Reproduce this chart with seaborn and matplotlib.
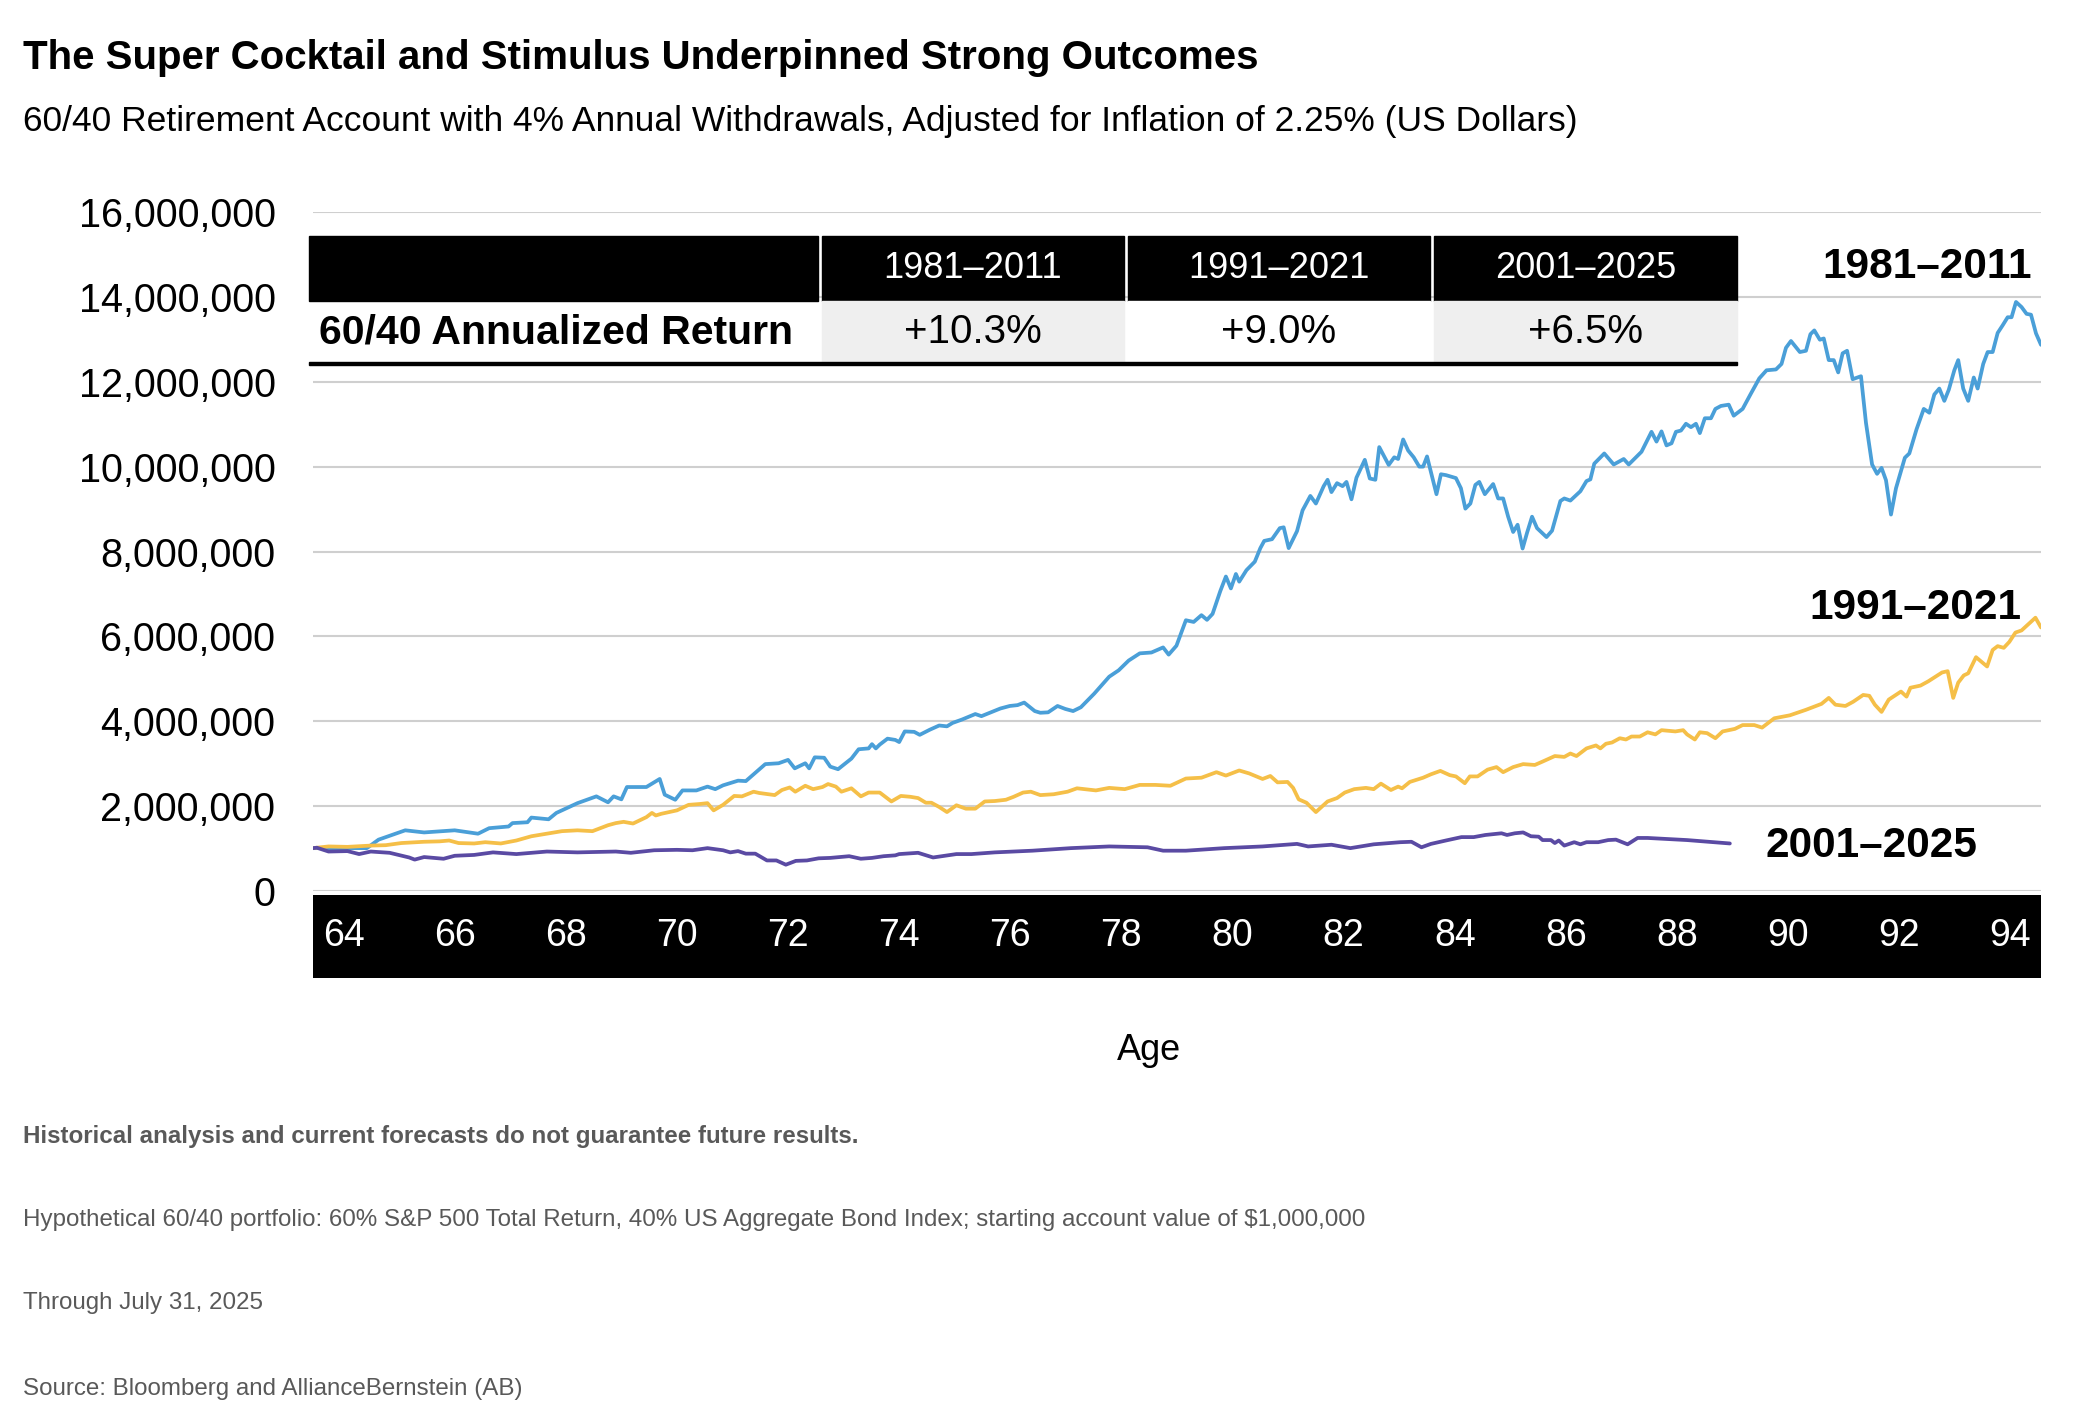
import matplotlib
matplotlib.use("Agg")
import matplotlib.pyplot as plt
from matplotlib.patches import Rectangle
import pandas as pd
import seaborn as sns

# ---- data (account value in millions of US dollars, by age) ----
periods = ["1981–2011", "1991–2021", "2001–2025"]
annualized = ["+10.3%", "+9.0%", "+6.5%"]

ages_8111 = [63.45, 64.42, 64.63, 65.11, 65.45, 66.00, 66.42, 66.62, 66.97, 67.04,
             67.31, 67.38, 67.69, 67.83, 68.21, 68.55, 68.76, 68.86, 69.00, 69.10,
             69.45, 69.69, 69.78, 69.97, 70.10, 70.35, 70.55, 70.69, 70.83, 71.10,
             71.24, 71.59, 71.83, 72.00, 72.12, 72.31, 72.38, 72.48, 72.65, 72.76,
             72.90, 73.14, 73.27, 73.45, 73.51, 73.58,
             73.65, 73.79, 73.93, 74.00, 74.10, 74.27, 74.37, 74.55, 74.72, 74.86,
             74.96, 75.13, 75.37, 75.48, 75.65, 75.82, 75.99, 76.13, 76.25, 76.44,
             76.54, 76.68, 76.85, 76.99, 77.13, 77.27, 77.51, 77.78, 77.95, 78.13,
             78.33, 78.54, 78.75, 78.85, 78.99, 79.16, 79.30, 79.44, 79.54, 79.64,
             79.78, 79.88, 79.97, 80.06, 80.12, 80.25, 80.40, 80.50, 80.57, 80.71,
             80.85, 80.92, 81.01, 81.16, 81.26, 81.40, 81.50, 81.64, 81.71, 81.78,
             81.88, 81.98, 82.05, 82.14, 82.23, 82.38, 82.47, 82.57, 82.64, 82.81,
             82.91, 82.98, 83.07, 83.16, 83.26, 83.36, 83.43, 83.50, 83.67, 83.75,
             83.84,
             84.02, 84.11, 84.19, 84.28, 84.37, 84.44, 84.54, 84.69, 84.78, 84.87,
             84.96, 85.05, 85.13, 85.22, 85.30, 85.39, 85.48, 85.65, 85.75, 85.90,
             85.97, 86.08, 86.26, 86.37, 86.44, 86.51, 86.69, 86.86, 87.04, 87.13,
             87.36, 87.54, 87.63, 87.72, 87.81, 87.90, 87.98, 88.07, 88.16, 88.25,
             88.34, 88.41, 88.50, 88.61, 88.69, 88.79, 88.93, 89.02, 89.18, 89.32,
             89.48, 89.61, 89.78, 89.88, 89.96, 90.05, 90.21, 90.32, 90.40, 90.47,
             90.57, 90.64, 90.73, 90.82, 90.90, 90.98, 91.06, 91.16, 91.31, 91.40,
             91.51, 91.60, 91.68, 91.76, 91.85, 91.94, 92.10, 92.18, 92.31, 92.44,
             92.54, 92.63, 92.72, 92.81, 92.89, 92.99, 93.06, 93.15, 93.24, 93.34,
             93.41, 93.51, 93.59, 93.68, 93.77, 93.86, 93.95, 94.02, 94.10, 94.20,
             94.29, 94.37, 94.46, 94.55]
vals_8111 = [1.01, 1.01, 1.21, 1.43, 1.38, 1.43, 1.35, 1.48, 1.52, 1.60,
             1.62, 1.73, 1.69, 1.84, 2.07, 2.23, 2.09, 2.23, 2.16, 2.45,
             2.45, 2.64, 2.27, 2.15, 2.37, 2.37, 2.46, 2.40, 2.49, 2.60,
             2.59, 2.99, 3.01, 3.09, 2.89, 3.01, 2.89, 3.15, 3.14, 2.93,
             2.87, 3.12, 3.34, 3.36, 3.46, 3.36,
             3.45, 3.59, 3.56, 3.51, 3.76, 3.75, 3.68, 3.80, 3.90, 3.88,
             3.96, 4.04, 4.17, 4.12, 4.21, 4.30, 4.36, 4.38, 4.44, 4.24,
             4.20, 4.21, 4.36, 4.29, 4.24, 4.33, 4.65, 5.05, 5.20, 5.43,
             5.60, 5.62, 5.74, 5.57, 5.78, 6.38, 6.34, 6.50, 6.39, 6.53,
             7.07, 7.41, 7.13, 7.47, 7.29, 7.56, 7.76, 8.08, 8.25, 8.29,
             8.55, 8.57, 8.08, 8.48, 8.97, 9.31, 9.13, 9.54, 9.69, 9.40,
             9.61, 9.54, 9.64, 9.23, 9.74, 10.16, 9.72, 9.69, 10.46, 10.04,
             10.22, 10.18, 10.64, 10.38, 10.22, 10.00, 10.00, 10.24, 9.35, 9.82,
             9.80,
             9.73, 9.49, 9.01, 9.13, 9.57, 9.64, 9.35, 9.59, 9.25, 9.25,
             8.82, 8.46, 8.63, 8.07, 8.44, 8.82, 8.55, 8.34, 8.49, 9.19,
             9.25, 9.20, 9.42, 9.66, 9.70, 10.07, 10.31, 10.05, 10.18, 10.05,
             10.35, 10.82, 10.59, 10.83, 10.50, 10.55, 10.82, 10.85, 11.01, 10.93,
             11.01, 10.79, 11.14, 11.14, 11.36, 11.43, 11.46, 11.20, 11.36, 11.70,
             12.08, 12.27, 12.29, 12.42, 12.80, 12.96, 12.70, 12.73, 13.12, 13.21,
             12.99, 13.02, 12.51, 12.51, 12.22, 12.67, 12.73, 12.06, 12.13, 11.03,
             10.05, 9.83, 9.97, 9.68, 8.87, 9.49, 10.21, 10.31, 10.88, 11.36,
             11.27, 11.70, 11.84, 11.55, 11.81, 12.27, 12.51, 11.84, 11.55, 12.10,
             11.84, 12.42, 12.70, 12.70, 13.15, 13.33, 13.52, 13.52, 13.88, 13.76,
             13.60, 13.58, 13.14, 12.87]

ages_9121 = [63.45, 63.73, 64.07, 64.49, 64.76, 65.04, 65.45, 65.73, 65.90, 66.07,
             66.35, 66.55, 66.83, 67.11, 67.38, 67.66, 67.93, 68.21, 68.48, 68.76,
             68.90, 69.04, 69.21, 69.45, 69.55, 69.62, 69.72, 70.00, 70.21, 70.41,
             70.55, 70.66, 70.83, 71.03, 71.17, 71.38, 71.48, 71.76, 71.89, 72.03,
             72.13, 72.31, 72.45, 72.62, 72.72, 72.86, 72.96, 73.14, 73.31, 73.45,
             73.65, 73.86, 74.03, 74.20, 74.34, 74.48, 74.58, 74.72, 74.86, 75.03,
             75.20, 75.37, 75.54, 75.72, 75.92, 76.06, 76.23, 76.37, 76.54, 76.78,
             77.03, 77.20, 77.54, 77.78, 78.06, 78.33, 78.61, 78.88, 79.16, 79.44,
             79.71, 79.88, 80.12, 80.30, 80.54, 80.68, 80.81, 80.99, 81.09, 81.19,
             81.33, 81.50, 81.71, 81.88, 82.02, 82.19, 82.40, 82.54, 82.67, 82.85,
             82.98, 83.05, 83.19, 83.43, 83.57, 83.74,
             83.91, 84.02, 84.18, 84.27, 84.41, 84.59, 84.75, 84.87, 85.05, 85.23,
             85.44, 85.58, 85.80, 85.97, 86.08, 86.19, 86.37, 86.54, 86.62, 86.72,
             86.83, 86.97, 87.08, 87.18, 87.33, 87.47, 87.61, 87.72, 87.97, 88.11,
             88.18, 88.32, 88.41, 88.54, 88.69, 88.82, 89.04, 89.18, 89.39, 89.53,
             89.75, 90.03, 90.32, 90.60, 90.73, 90.85, 91.03, 91.17, 91.35, 91.46,
             91.56, 91.68, 91.81, 92.03, 92.13, 92.20, 92.38, 92.52, 92.77, 92.87,
             92.97, 93.06, 93.16, 93.24, 93.38, 93.49, 93.58, 93.68, 93.77, 93.88,
             93.98, 94.09, 94.20, 94.45, 94.55]
vals_9121 = [1.01, 1.05, 1.04, 1.07, 1.08, 1.13, 1.16, 1.17, 1.19, 1.13,
             1.12, 1.15, 1.12, 1.19, 1.29, 1.35, 1.41, 1.43, 1.41, 1.55,
             1.60, 1.63, 1.59, 1.74, 1.84, 1.78, 1.82, 1.90, 2.03, 2.05,
             2.07, 1.90, 2.03, 2.24, 2.23, 2.34, 2.31, 2.26, 2.38, 2.44,
             2.34, 2.48, 2.40, 2.45, 2.52, 2.46, 2.34, 2.42, 2.23, 2.32,
             2.32, 2.11, 2.24, 2.22, 2.19, 2.08, 2.08, 1.98, 1.86, 2.02,
             1.94, 1.94, 2.11, 2.12, 2.15, 2.22, 2.32, 2.34, 2.26, 2.28,
             2.34, 2.42, 2.37, 2.43, 2.40, 2.50, 2.50, 2.48, 2.65, 2.67,
             2.80, 2.72, 2.84, 2.77, 2.64, 2.71, 2.56, 2.57, 2.43, 2.16,
             2.08, 1.86, 2.11, 2.19, 2.32, 2.40, 2.43, 2.40, 2.53, 2.38,
             2.46, 2.42, 2.57, 2.67, 2.75, 2.83,
             2.73, 2.70, 2.54, 2.70, 2.70, 2.86, 2.92, 2.80, 2.92, 2.99,
             2.97, 3.05, 3.18, 3.16, 3.24, 3.18, 3.36, 3.43, 3.36, 3.47,
             3.50, 3.60, 3.57, 3.64, 3.64, 3.74, 3.69, 3.79, 3.76, 3.79,
             3.69, 3.57, 3.74, 3.72, 3.60, 3.76, 3.82, 3.91, 3.91, 3.85,
             4.07, 4.14, 4.27, 4.41, 4.55, 4.39, 4.36, 4.46, 4.62, 4.60,
             4.39, 4.22, 4.51, 4.70, 4.58, 4.79, 4.84, 4.94, 5.15, 5.18,
             4.55, 4.91, 5.08, 5.13, 5.51, 5.39, 5.29, 5.68, 5.77, 5.73,
             5.87, 6.09, 6.14, 6.44, 6.21]

ages_0125 = [63.45, 63.52, 63.73, 64.07, 64.28, 64.49, 64.83, 65.18, 65.28, 65.45,
             65.80, 66.00, 66.35, 66.69, 67.11, 67.66, 68.21, 68.90, 69.17, 69.59,
             70.00, 70.28, 70.55, 70.83, 70.96, 71.10, 71.24, 71.41, 71.62, 71.79,
             71.96, 72.14, 72.34, 72.55, 72.76, 73.10, 73.31, 73.51, 73.72, 73.93,
             74.00, 74.34, 74.61, 75.03, 75.30, 75.72, 76.40, 77.09, 77.78, 78.47,
             78.75, 79.16, 79.85, 80.54, 81.16, 81.36, 81.78, 82.12, 82.54, 83.02,
             83.22, 83.40, 83.57, 83.84,
             84.12, 84.34, 84.55, 84.84, 84.94, 85.08, 85.23, 85.37, 85.51, 85.58,
             85.73, 85.80, 85.87, 85.97, 86.15, 86.26, 86.37, 86.58, 86.76, 86.90,
             87.11, 87.29, 87.47, 88.18, 88.95]
vals_0125 = [1.01, 1.02, 0.93, 0.94, 0.87, 0.93, 0.90, 0.79, 0.74, 0.80,
             0.76, 0.83, 0.85, 0.91, 0.87, 0.93, 0.91, 0.93, 0.90, 0.96,
             0.97, 0.96, 1.01, 0.96, 0.91, 0.94, 0.88, 0.88, 0.72, 0.72,
             0.62, 0.71, 0.72, 0.77, 0.78, 0.82, 0.76, 0.78, 0.82, 0.84,
             0.87, 0.90, 0.79, 0.87, 0.87, 0.91, 0.95, 1.01, 1.05, 1.03,
             0.95, 0.95, 1.01, 1.05, 1.11, 1.05, 1.09, 1.01, 1.10, 1.15,
             1.16, 1.03, 1.11, 1.19,
             1.27, 1.27, 1.32, 1.36, 1.32, 1.36, 1.38, 1.29, 1.28, 1.20,
             1.20, 1.13, 1.19, 1.07, 1.15, 1.10, 1.15, 1.15, 1.20, 1.21,
             1.10, 1.25, 1.25, 1.20, 1.12]

age_ticks = list(range(64, 95, 2))
y_ticks = list(range(0, 17, 2))  # millions

colors = {"1981–2011": "#4a9fd8", "1991–2021": "#f5bf48", "2001–2025": "#5a4aa3"}

W, H = 2100, 1424


def fx(x):
    return x / W


def fy(y):
    return 1 - y / H


sns.set_theme(style="white")
plt.rcParams["font.family"] = ["Liberation Sans", "DejaVu Sans"]
plt.rcParams["text.color"] = "black"
plt.rcParams["ytick.color"] = "black"
plt.rcParams["xtick.color"] = "black"

df = pd.concat([
    pd.DataFrame({"age": ages_8111, "value": vals_8111, "period": periods[0]}),
    pd.DataFrame({"age": ages_9121, "value": vals_9121, "period": periods[1]}),
    pd.DataFrame({"age": ages_0125, "value": vals_0125, "period": periods[2]}),
], ignore_index=True)

fig = plt.figure(figsize=(21, 14.24), dpi=100)
fig.patch.set_facecolor("white")

ax = fig.add_axes([fx(313), fy(891), fx(2041 - 313), (891 - 212) / H])
sns.lineplot(data=df, x="age", y="value", hue="period", palette=colors,
             estimator=None, linewidth=2.7, legend=False, ax=ax)

ax.set_xlim(63.45, 94.55)
ax.set_ylim(0, 16)
ax.set_yticks(y_ticks)
ax.set_yticklabels([f"{v * 1_000_000:,}" for v in y_ticks], fontsize=28.5, color="black")
ax.set_xticks([])
ax.set_xlabel("")
ax.set_ylabel("")
ax.yaxis.grid(True, color="#cfcfcf", linewidth=1.5)
ax.set_axisbelow(True)
ax.tick_params(axis="y", length=0, pad=27)
for s in ax.spines.values():
    s.set_visible(False)

# series labels at the right
ax.text(94.39, 14.7, periods[0], ha="right", va="center", fontsize=30.5, fontweight="bold")
ax.text(94.19, 6.67, periods[1], ha="right", va="center", fontsize=30.5, fontweight="bold")
ax.text(93.40, 1.06, periods[2], ha="right", va="center", fontsize=30.5, fontweight="bold")

# black age band
band = fig.add_axes([fx(313), fy(978), fx(2041 - 313), (978 - 895) / H])
band.set_facecolor("black")
band.set_xlim(63.45, 94.55)
band.set_ylim(0, 1)
band.set_xticks([])
band.set_yticks([])
for s in band.spines.values():
    s.set_visible(False)
for a in age_ticks:
    band.text(a, 0.5, str(a), ha="center", va="center", color="white", fontsize=27)

fig.text(fx(1149), fy(1050), "Age", ha="center", va="center", fontsize=26)

# summary table above the lines
cols = [(822, 1124), (1128, 1430), (1434, 1737)]
fig.add_artist(Rectangle((fx(309), fy(301)), fx(818 - 309), (301 - 236) / H,
                         transform=fig.transFigure, color="black", zorder=5))
for i, (x0, x1) in enumerate(cols):
    fig.add_artist(Rectangle((fx(x0), fy(301)), fx(x1 - x0), (301 - 236) / H,
                             transform=fig.transFigure, color="black", zorder=5))
    fill = "#efefef" if i != 1 else "white"
    fig.add_artist(Rectangle((fx(x0), fy(362)), fx(x1 - x0), (362 - 301) / H,
                             transform=fig.transFigure, color=fill, zorder=5))
    fig.text(fx((x0 + x1) / 2), fy(268), periods[i], ha="center", va="center",
             color="white", fontsize=26, zorder=6)
    fig.text(fx((x0 + x1) / 2), fy(332), annualized[i], ha="center", va="center",
             color="black", fontsize=29, zorder=6)
fig.add_artist(Rectangle((fx(309), fy(365)), fx(1737 - 309), 3 / H,
                         transform=fig.transFigure, color="black", zorder=6))
fig.text(fx(319), fy(332), "60/40 Annualized Return", ha="left", va="center",
         fontsize=29.5, fontweight="bold", zorder=6)

# titles
fig.text(fx(23), fy(58), "The Super Cocktail and Stimulus Underpinned Strong Outcomes",
         ha="left", va="center", fontsize=29, fontweight="bold")
fig.text(fx(23), fy(122),
         "60/40 Retirement Account with 4% Annual Withdrawals, Adjusted for Inflation of 2.25% (US Dollars)",
         ha="left", va="center", fontsize=25.5)

# footnotes
note_color = "#595959"
fig.text(fx(23), fy(1137), "Historical analysis and current forecasts do not guarantee future results.",
         ha="left", va="center", fontsize=17.4, fontweight="bold", color=note_color)
fig.text(fx(23), fy(1220),
         "Hypothetical 60/40 portfolio: 60% S&P 500 Total Return, 40% US Aggregate Bond Index; starting account value of $1,000,000",
         ha="left", va="center", fontsize=17.4, color=note_color)
fig.text(fx(23), fy(1303), "Through July 31, 2025", ha="left", va="center", fontsize=17.4, color=note_color)
fig.text(fx(23), fy(1389), "Source: Bloomberg and AllianceBernstein (AB)", ha="left", va="center",
         fontsize=17.4, color=note_color)

fig.savefig("out.png", dpi=100, facecolor="white")
